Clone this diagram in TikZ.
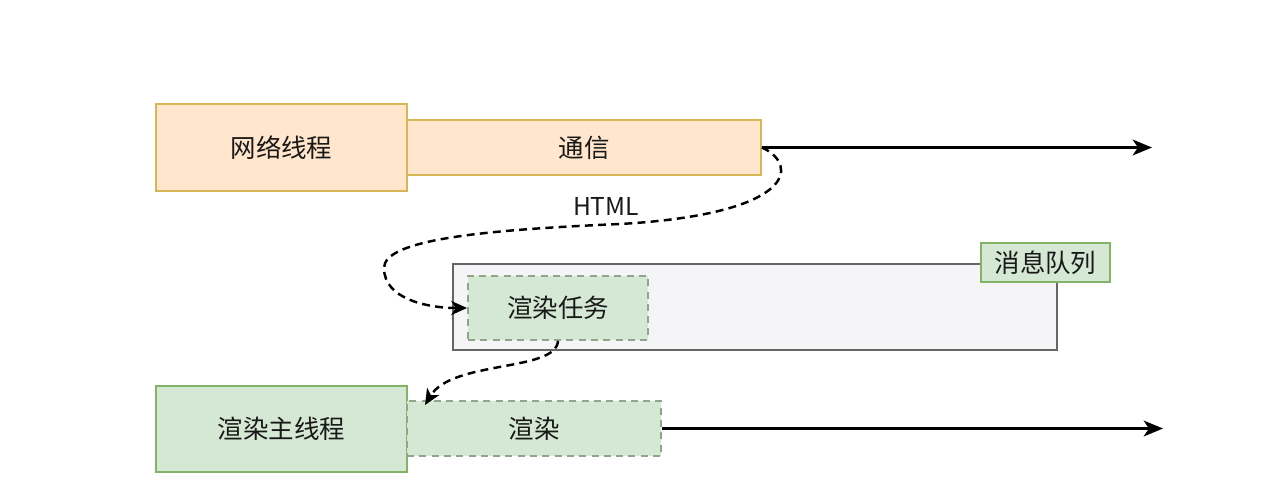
\documentclass[tikz,border=0pt]{standalone}
\usepackage{fontspec}
\setmainfont{Noto Sans CJK SC}
\usetikzlibrary{arrows.meta}

\begin{document}
\begin{tikzpicture}
		[x=0.02cm,y=-0.02cm,
		%Styles
		box/.style={rectangle,inner sep=0pt,line width=1.1pt,text=textcolor,font=\fontsize{14.5}{17}\selectfont},
		net box/.style={box,fill=netfill,draw=netline},
		render box/.style={box,fill=renderfill,draw=renderline},
		task box/.style={box,fill=renderfill,draw=taskline,dash pattern=on 4pt off 3pt},
		queue box/.style={box,fill=queuefill,draw=queueline},
		label text/.style={text=textcolor,font=\fontsize{14}{17}\selectfont},
		flow line/.style={line width=1.4pt,-{Stealth[length=11pt,width=9pt,inset=3pt]}},
		hint line/.style={line width=1.4pt,dash pattern=on 4.5pt off 3pt,-{Stealth[length=9pt,width=8pt,inset=2.5pt]}}
		]
		
		%Colors
		\definecolor{netfill}{RGB}{255,230,204}
		\definecolor{netline}{RGB}{214,182,86}
		\definecolor{renderfill}{RGB}{213,232,212}
		\definecolor{renderline}{RGB}{130,179,102}
		\definecolor{taskline}{RGB}{145,165,140}
		\definecolor{queuefill}{RGB}{245,245,247}
		\definecolor{queueline}{RGB}{102,102,102}
		\definecolor{textcolor}{RGB}{25,25,25}
		
		\useasboundingbox (0,0) rectangle (1267,498);
		
		%The graphic
		\node[queue box,minimum width=12.08cm,minimum height=1.72cm] (queue) at (755,307) {};
		\node[render box,minimum width=2.58cm,minimum height=0.78cm] (queue label) at (1045.5,262.5) {消息队列};
		\node[task box,minimum width=3.6cm,minimum height=1.28cm] (task) at (558,308) {渲染任务};
		
		\node[net box,minimum width=5.02cm,minimum height=1.74cm] (net) at (281.5,147.5) {网络线程};
		\node[net box,minimum width=7.08cm,minimum height=1.1cm] (comm) at (584,147.5) {通信};
		
		\node[render box,minimum width=5.02cm,minimum height=1.72cm] (main) at (281.5,429) {渲染主线程};
		\node[task box,minimum width=5.08cm,minimum height=1.1cm] (render) at (534,428.5) {渲染};
		
		\node[label text] (html) at (606,206) {HTML};
		
		\coordinate (comm end) at (1152,147.5);
		\coordinate (render end) at (1163,428.5);
		\coordinate (render in) at (425,405);
		
		\draw[flow line] (comm.east) -- (comm end);
		\draw[flow line] (render.east) -- (render end);
		
		\draw[hint line] (comm.east) .. controls (800,165) and (795,214) .. (620,224)
			.. controls (480,230) and (384,240) .. (384,268)
			.. controls (384,300) and (430,308) .. (task.west);
		\draw[hint line] (task.south) .. controls (556,372) and (452,360) .. (render in);
	\end{tikzpicture}
\end{document}
